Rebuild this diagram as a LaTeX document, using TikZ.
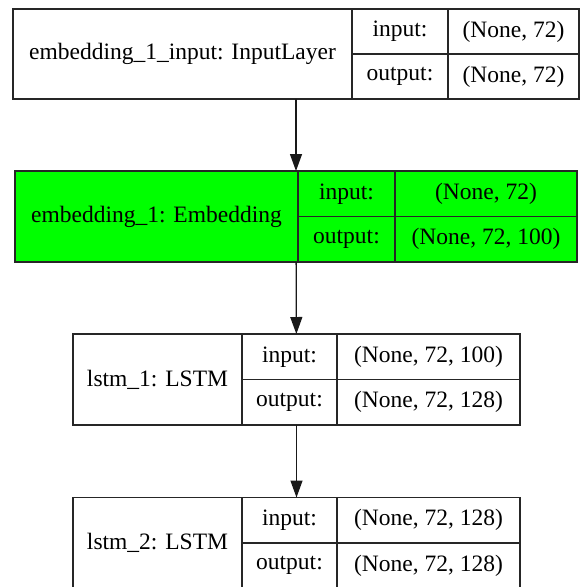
\documentclass[tikz,border=0pt]{standalone}
\usepackage{fontspec}
\setmainfont{Liberation Serif}
\usetikzlibrary{positioning, arrows.meta}

\definecolor{embgreen}{HTML}{00FF00}

\begin{document}
\begin{tikzpicture}[
            x=1pt, y=-1pt,
            layer/.style={draw=black!85, line width=1.3pt, inner sep=0pt, outer sep=0pt},
            cell/.style={draw=black!85, line width=1.3pt, inner sep=0pt, outer sep=0pt,
                    anchor=north west, font=\fontsize{23.5}{26}\selectfont},
            half/.style={cell, minimum height=45.5pt},
            flow/.style={-{Triangle[length=17pt, width=12pt]}, line width=1.3pt, black!90}
        ]

        \useasboundingbox (0,0) rectangle (580,587);

        % input layer
        \node[layer, minimum width=566pt, minimum height=90pt] (inp) at (296,54) {};
        \node[cell, minimum width=339pt, minimum height=90pt] (inpname) at (inp.north west) {embedding\_1\_input: InputLayer};
        \node[half, minimum width=96pt, minimum height=45pt] (inpin) at (inpname.north east) {input:};
        \node[half, minimum width=96pt, minimum height=45pt, below=0pt of inpin] (inpout) {output:};
        \node[half, minimum width=131pt, minimum height=45pt] (inpinval) at (inpin.north east) {(None, 72)};
        \node[half, minimum width=131pt, minimum height=45pt, below=0pt of inpinval] (inpoutval) {(None, 72)};

        % embedding layer
        \node[layer, fill=embgreen, minimum width=562pt, minimum height=91pt] (emb) at (296,216.5) {};
        \node[cell, minimum width=283pt, minimum height=91pt] (embname) at (emb.north west) {embedding\_1: Embedding};
        \node[half, minimum width=97pt] (embin) at (embname.north east) {input:};
        \node[half, minimum width=97pt, below=0pt of embin] (embout) {output:};
        \node[half, minimum width=182pt] (embinval) at (embin.north east) {(None, 72)};
        \node[half, minimum width=182pt, below=0pt of embinval] (emboutval) {(None, 72, 100)};

        % first lstm
        \node[layer, minimum width=447pt, minimum height=91pt] (lstma) at (296.5,379.5) {};
        \node[cell, minimum width=169pt, minimum height=91pt] (lstmaname) at (lstma.north west) {lstm\_1: LSTM};
        \node[half, minimum width=95pt] (lstmain) at (lstmaname.north east) {input:};
        \node[half, minimum width=95pt, below=0pt of lstmain] (lstmaout) {output:};
        \node[half, minimum width=183pt] (lstmainval) at (lstmain.north east) {(None, 72, 100)};
        \node[half, minimum width=183pt, below=0pt of lstmainval] (lstmaoutval) {(None, 72, 128)};

        % second lstm
        \node[layer, minimum width=447pt, minimum height=91pt] (lstmb) at (296.5,543) {};
        \node[cell, minimum width=169pt, minimum height=91pt] (lstmbname) at (lstmb.north west) {lstm\_2: LSTM};
        \node[half, minimum width=95pt] (lstmbin) at (lstmbname.north east) {input:};
        \node[half, minimum width=95pt, below=0pt of lstmbin] (lstmbout) {output:};
        \node[half, minimum width=183pt] (lstmbinval) at (lstmbin.north east) {(None, 72, 128)};
        \node[half, minimum width=183pt, below=0pt of lstmbinval] (lstmboutval) {(None, 72, 128)};

        % connections
        \draw[flow] (inp) -- (emb);
        \draw[flow] (emb) -- (lstma);
        \draw[flow] (lstma) -- (lstmb);

    \end{tikzpicture}
\end{document}
